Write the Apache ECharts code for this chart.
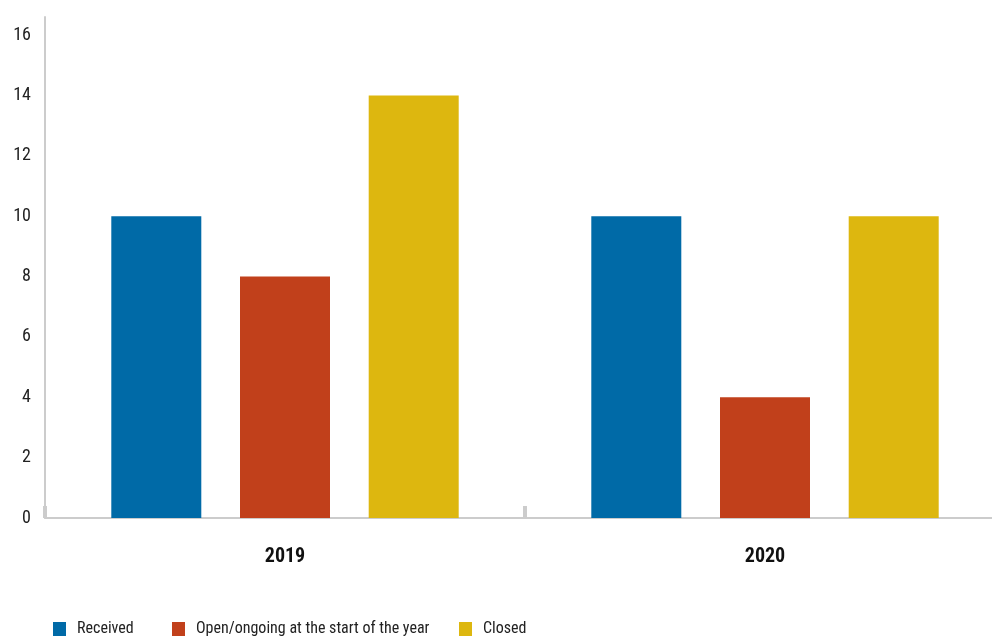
<!DOCTYPE html>
<html><head><meta charset="utf-8">
<script src="https://cdn.jsdelivr.net/npm/echarts@6/dist/echarts.min.js"></script>
<style>html,body{margin:0;padding:0;background:#fff}#c{width:992px;height:639px}</style>
</head><body><div id="c"></div>
<script>
const categories = ['2019', '2020'];
const received = [10, 10];
const openOngoing = [8, 4];
const closed = [14, 10];
const seriesNames = ['Received', 'Open/ongoing at the start of the year', 'Closed'];
const colors = ['#006AA7', '#C1401B', '#DDB70F'];
const font = '"Roboto Condensed", "Liberation Sans Narrow", sans-serif';

const legendLefts = [48, 167, 454];
const legends = seriesNames.map((n, i) => ({
  left: legendLefts[i], top: 616, itemWidth: 13, itemHeight: 14,
  icon: 'rect',
  textStyle: { fontFamily: font, fontSize: 16, color: '#222', padding: [0, 0, 0, 6] },
  data: [n]
}));

const chart = echarts.init(document.getElementById('c'));
chart.setOption({
  animation: false,
  color: colors,
  grid: { left: 45, width: 960, top: 17, bottom: 121, containLabel: false, outerBoundsMode: 'none' },
  legend: legends,
  xAxis: {
    type: 'category', data: categories,
    axisLine: { lineStyle: { color: '#ccc', width: 2 } },
    axisTick: { show: true, inside: true, length: 12, lineStyle: { color: '#ccc', width: 4 } },
    axisLabel: { fontFamily: font, fontSize: 20, fontWeight: 'bold', color: '#111', margin: 29 }
  },
  yAxis: {
    type: 'value', min: 0, max: 16.6, interval: 2,
    axisLine: { show: true, lineStyle: { color: '#ccc', width: 2 } },
    axisTick: { show: false },
    splitLine: { show: false },
    axisLabel: { showMaxLabel: false, fontFamily: font, fontSize: 18, color: '#222', margin: 14 }
  },
  series: [
    { name: seriesNames[0], type: 'bar', data: received, barWidth: 90, barGap: '43%' },
    { name: seriesNames[1], type: 'bar', data: openOngoing, barWidth: 90, barGap: '43%' },
    { name: seriesNames[2], type: 'bar', data: closed, barWidth: 90, barGap: '43%' }
  ]
});
</script></body></html>
